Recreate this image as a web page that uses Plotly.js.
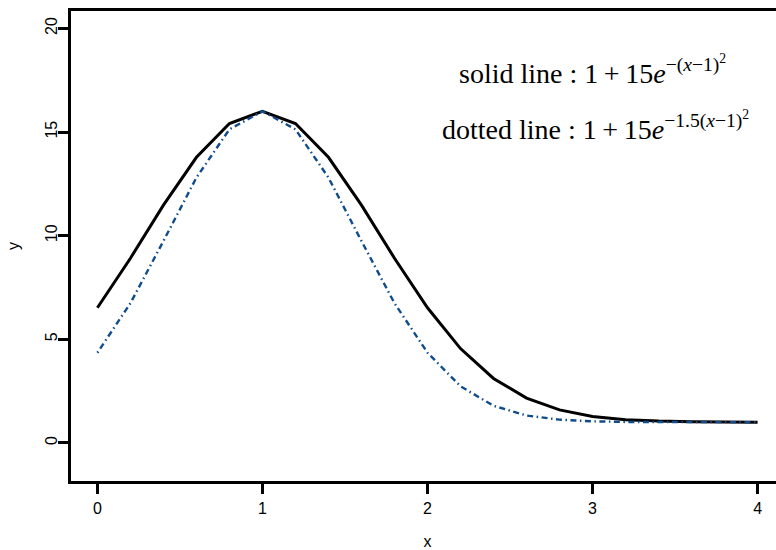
<!DOCTYPE html>
<html>
<head>
<meta charset="utf-8">
<script src="https://cdn.plot.ly/plotly-3.0.1.min.js"></script>
<style>
  html, body { margin: 0; padding: 0; overflow: hidden; background: #fff; }
  #chart { width: 800px; height: 550px; }
</style>
</head>
<body>
<div id="chart"></div>
<script>
// sample points along x
const xs = [0, 0.2, 0.4, 0.6, 0.8, 1.0, 1.2, 1.4, 1.6, 1.8, 2.0,
            2.2, 2.4, 2.6, 2.8, 3.0, 3.2, 3.4, 3.6, 3.8, 4.0];

// solid curve: 1 + 15 e^{-(x-1)^2}
const solidY = [6.52, 8.91, 11.47, 13.78, 15.41, 16.00, 15.41, 13.78, 11.47, 8.91, 6.52,
                4.55, 3.11, 2.16, 1.59, 1.27, 1.12, 1.05, 1.02, 1.01, 1.00];

// dotted curve: 1 + 15 e^{-1.5(x-1)^2}
const dottedY = [4.35, 6.74, 9.74, 12.80, 15.13, 16.00, 15.13, 12.80, 9.74, 6.74, 4.35,
                 2.73, 1.79, 1.32, 1.12, 1.04, 1.01, 1.00, 1.00, 1.00, 1.00];

const xTicks = [0, 1, 2, 3, 4];
const yTicks = [0, 5, 10, 15, 20];

const sansFont = { family: 'Liberation Sans, Arial, sans-serif', size: 16, color: '#000' };
const serif = 'Liberation Serif, Times New Roman, serif';

const traces = [
  {
    x: xs, y: solidY, type: 'scatter', mode: 'lines',
    line: { color: '#000000', width: 3 },
    hoverinfo: 'skip'
  },
  {
    x: xs, y: dottedY, type: 'scatter', mode: 'lines',
    line: { color: '#0f4c8c', width: 2.4, dash: '1.5px,3.5px,6px,3.5px' },
    hoverinfo: 'skip'
  }
];

const axisCommon = {
  showgrid: false, zeroline: false,
  showline: true, mirror: true, linecolor: '#000', linewidth: 3,
  ticks: 'outside', ticklen: 10, tickwidth: 3, tickcolor: '#000',
  tickfont: sansFont
};

// formula labels (thin spaces mimic math spacing around the operators)
const plus = '\u2009+\u2009';
const solidLabel = 'solid line : 1' + plus + '15<i>e</i><sup>\u2212(<i>x</i>\u22121)<sup>2</sup></sup>';
const dottedLabel = 'dotted line : 1' + plus + '15<i>e</i><sup>\u22121.5(<i>x</i>\u22121)<sup>2</sup></sup>';

const layout = {
  width: 800, height: 550,
  margin: { l: 71, r: 16, t: 11, b: 69 },
  paper_bgcolor: '#fff', plot_bgcolor: '#fff',
  showlegend: false,
  xaxis: Object.assign({}, axisCommon, {
    range: [-0.16, 4.16], tickvals: xTicks, ticktext: xTicks.map(String),
    ticklabelstandoff: 1,
    title: { text: 'x', font: sansFont, standoff: 27 }
  }),
  yaxis: Object.assign({}, axisCommon, {
    range: [-1.84, 20.84], tickvals: yTicks, ticktext: yTicks.map(String),
    tickangle: -90, ticklabelstandoff: -5,
    title: { text: 'y', font: sansFont, standoff: 19 }
  }),
  annotations: [
    {
      xref: 'x', yref: 'y', x: 3, y: 18.0, xanchor: 'center', yanchor: 'middle',
      showarrow: false,
      font: { family: serif, size: 28, color: '#000' },
      text: solidLabel
    },
    {
      xref: 'x', yref: 'y', x: 3.02, y: 15.3, xanchor: 'center', yanchor: 'middle',
      showarrow: false,
      font: { family: serif, size: 28, color: '#000' },
      text: dottedLabel
    }
  ]
};

Plotly.newPlot('chart', traces, layout, { displayModeBar: false, staticPlot: true });
</script>
</body>
</html>
